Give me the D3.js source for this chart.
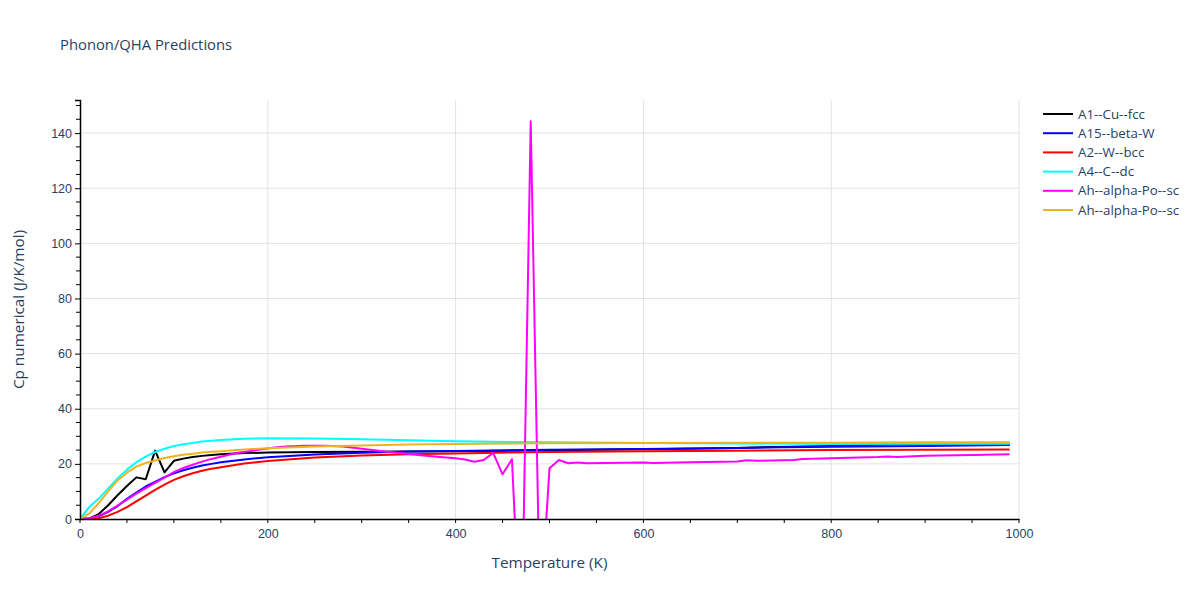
<!DOCTYPE html>
<html>
<head>
<meta charset="utf-8">
<script src="https://cdn.jsdelivr.net/npm/d3@7"></script>
<style>
body{margin:0;background:#fff;}
svg{font-family:"Open Sans",verdana,arial,sans-serif;}
</style>
</head>
<body>
<svg id="chart" width="1200" height="600"></svg>
<script>
// ---- data ----
const tempsCommon = [0,10,20,30,40,50,60,70,80,90,100,110,120,130,140,150,175,200,250,300,350,400,500,600,700,800,900,990];
const cuFcc   = [0,0.2,1.8,5.0,8.6,12.0,15.1,14.4,24.8,16.9,21.1,21.9,22.5,22.9,23.2,23.5,23.9,24.1,24.3,24.4,24.5,24.6,24.9,25.3,25.8,26.5,27.4,27.2];
const betaW   = [0,0.2,1.0,2.6,4.7,7.3,9.6,11.8,13.5,15.2,16.6,17.7,18.6,19.4,20.0,20.6,21.6,22.4,23.4,24.0,24.5,24.7,25.1,25.4,25.8,26.2,26.5,26.8];
const wBcc    = [0,0.05,0.3,1.2,2.6,4.3,6.4,8.5,10.6,12.5,14.2,15.5,16.6,17.5,18.2,18.8,20.1,21.0,22.3,23.0,23.5,23.8,24.3,24.6,24.8,25.0,25.1,25.2];
const cDc     = [0,4.4,7.4,11.0,14.7,17.9,20.6,22.6,24.3,25.5,26.5,27.1,27.6,28.1,28.4,28.7,29.1,29.3,29.2,28.9,28.6,28.2,27.8,27.6,27.4,27.2,27.3,27.3];
const poSc2   = [0,2.0,5.8,10.0,14.0,16.8,19.0,20.3,21.2,22.1,22.8,23.3,23.7,24.1,24.4,24.6,25.2,25.7,26.3,26.7,27.0,27.2,27.5,27.6,27.7,27.7,27.8,27.8];
const tempsPo1 = [0,10,20,30,40,50,60,70,80,90,100,110,120,130,140,150,160,170,180,190,200,210,220,240,260,280,300,320,340,360,380,400,410,420,430,440,450,460,470,480,490,500,510,520,530,540,560,600,610,650,700,710,720,760,770,800,850,860,870,900,950,990];
const poSc1    = [0,0.3,1.2,2.8,4.9,7.0,9.2,11.2,13.1,15.0,17.0,18.5,19.7,20.8,21.8,22.6,23.4,24.1,24.6,25.1,25.6,26.0,26.3,26.6,26.6,26.3,25.5,24.7,23.9,23.2,22.6,22.0,21.6,20.8,21.4,24.0,16.2,21.7,-50,144.3,-36,18.4,21.4,20.2,20.5,20.2,20.3,20.5,20.3,20.6,20.9,21.3,21.1,21.4,21.8,22.0,22.5,22.7,22.5,22.9,23.2,23.5];

const seriesNames  = ["A1--Cu--fcc","A15--beta-W","A2--W--bcc","A4--C--dc","Ah--alpha-Po--sc","Ah--alpha-Po--sc"];
const seriesColors = ["#000000","#0000ff","#ff0000","#00ffff","#ff00ff","#ecb51f"];
const xTicks = [0,200,400,600,800,1000];
const yTicks = [0,20,40,60,80,100,120,140];

const series = [
  {t: tempsCommon, v: cuFcc},
  {t: tempsCommon, v: betaW},
  {t: tempsCommon, v: wBcc},
  {t: tempsCommon, v: cDc},
  {t: tempsPo1, v: poSc1},
  {t: tempsCommon, v: poSc2}
];

// ---- layout ----
const svg = d3.select("#chart");
const L = 80, R = 1019, T = 100, B = 519;
const x = d3.scaleLinear().domain([0,1000]).range([L,R]);
const y = d3.scaleLinear().domain([0,152]).range([B,T]);
const textColor = "#2a3f5f";

// grid
svg.append("g").selectAll("line").data(yTicks.filter(d=>d>0)).join("line")
  .attr("x1",L).attr("x2",R).attr("y1",d=>y(d)).attr("y2",d=>y(d))
  .attr("stroke","#e3e3e3").attr("stroke-width",1);
svg.append("g").selectAll("line").data(xTicks.filter(d=>d>0)).join("line")
  .attr("x1",d=>x(d)).attr("x2",d=>x(d)).attr("y1",T).attr("y2",B)
  .attr("stroke","#e3e3e3").attr("stroke-width",1);

// clip
svg.append("clipPath").attr("id","clip").append("rect")
  .attr("x",L).attr("y",T).attr("width",R-L).attr("height",B-T);

const line = d3.line().x(d=>x(d[0])).y(d=>y(d[1]));
const gLines = svg.append("g").attr("clip-path","url(#clip)");
series.forEach((s,i)=>{
  const pts = s.t.map((t,j)=>[t,s.v[j]]);
  gLines.append("path").datum(pts).attr("d",line)
    .attr("fill","none").attr("stroke",seriesColors[i]).attr("stroke-width",2)
    .attr("stroke-linejoin","round");
});

// axes
const xAxis = d3.axisBottom(x).tickValues(xTicks).tickSize(0).tickPadding(8).tickFormat(d3.format("d"));
const gx = svg.append("g").attr("transform",`translate(0,${B})`).call(xAxis);
gx.select(".domain").attr("stroke","#000").attr("stroke-width",1.5);
gx.selectAll("text").attr("fill",textColor).attr("font-size",12.5).attr("dy","0.9em");
const xMinor = d3.range(0,1001,50);
svg.append("g").selectAll("line").data(xMinor).join("line")
  .attr("x1",d=>x(d)).attr("x2",d=>x(d)).attr("y1",B).attr("y2",B+4)
  .attr("stroke","#000").attr("stroke-width",1);

const yAxis = d3.axisLeft(y).tickValues(yTicks).tickSize(5).tickPadding(3);
const gy = svg.append("g").attr("transform",`translate(${L},0)`).call(yAxis);
gy.select(".domain").attr("stroke","#000").attr("stroke-width",1.5);
gy.selectAll(".tick line").attr("stroke","#000");
gy.selectAll("text").attr("fill",textColor).attr("font-size",12.5);
const yMinor = d3.range(0,151,5).filter(d=>d%20!==0);
svg.append("g").selectAll("line").data(yMinor).join("line")
  .attr("x1",L-4).attr("x2",L).attr("y1",d=>y(d)).attr("y2",d=>y(d))
  .attr("stroke","#000").attr("stroke-width",1);

// titles
svg.append("text").attr("x",60).attr("y",50).attr("fill",textColor)
  .attr("font-size",14.8).text("Phonon/QHA Predictions");
svg.append("text").attr("x",(L+R)/2).attr("y",568).attr("text-anchor","middle")
  .attr("fill",textColor).attr("font-size",15.3).text("Temperature (K)");
svg.append("text").attr("transform",`translate(24,${(T+B)/2}) rotate(-90)`)
  .attr("text-anchor","middle").attr("fill",textColor).attr("font-size",15.3)
  .text("Cp numerical (J/K/mol)");

// legend
const lg = svg.append("g");
seriesNames.forEach((n,i)=>{
  const yy = 114 + i*19.2;
  lg.append("line").attr("x1",1043).attr("x2",1073).attr("y1",yy).attr("y2",yy)
    .attr("stroke",seriesColors[i]).attr("stroke-width",2);
  lg.append("text").attr("x",1078).attr("y",yy+4.5).attr("fill",textColor)
    .attr("font-size",13.3).text(n);
});
</script>
</body>
</html>
